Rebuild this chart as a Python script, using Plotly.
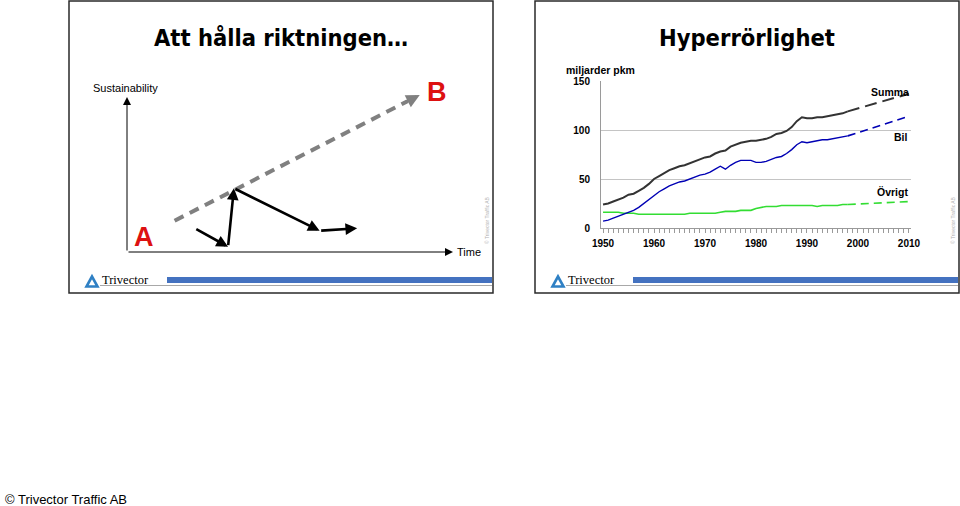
import plotly.graph_objects as go

# ---------------- data: right chart (miljarder pkm) ----------------
years = list(range(1950, 1999))
summa = [24, 25, 27, 29, 31, 34, 35, 38, 41, 45,
         50, 53, 56, 59, 61, 63, 64, 66, 68, 70,
         72, 73, 76, 78, 79, 83, 85, 87, 88, 89,
         89, 90, 91, 93, 96, 97, 99, 103, 109, 113,
         112, 112, 113, 113, 114, 115, 116, 117, 119]
bil = [7, 8, 10, 12, 14, 16, 18, 21, 25, 29,
       33, 37, 40, 43, 45, 47, 48, 50, 52, 54,
       55, 57, 60, 63, 60, 64, 67, 69, 69, 69,
       67, 67, 68, 70, 72, 73, 76, 80, 85, 88,
       87, 88, 89, 90, 90, 91, 92, 93, 94]
ovrigt = [16, 16, 16, 16, 15, 15, 15, 14, 14, 14,
          14, 14, 14, 14, 14, 14, 14, 15, 15, 15,
          15, 15, 15, 16, 17, 17, 17, 18, 18, 18,
          20, 21, 22, 22, 22, 23, 23, 23, 23, 23,
          23, 23, 22, 23, 23, 23, 23, 24, 24]
proj_years = [1998, 2010]
summa_proj = [119, 137]
bil_proj = [94, 114]
ovrigt_proj = [24, 27]
x_ticks = [1950, 1960, 1970, 1980, 1990, 2000, 2010]
y_ticks = [0, 50, 100, 150]

# ---------------- data: left schematic (units 0-100) ----------------
goal_x = [14.6, 89.8]          # dashed A -> B
goal_y = [20.2, 101.3]
path_x = [20.8, 31.0, 32.8, 59.1, 70.6]   # wandering black arrows
path_y = [15.3, 3.4, 41.1, 13.7, 15.3]

W, H = 960, 506
def px(x): return x / W
def py(y): return 1 - y / H

fig = go.Figure()

# right chart lines
fig.add_trace(go.Scatter(x=years, y=ovrigt, mode="lines", line=dict(color="#33dd33", width=1.6),
                         xaxis="x2", yaxis="y2", hoverinfo="skip"))
fig.add_trace(go.Scatter(x=proj_years, y=ovrigt_proj, mode="lines",
                         line=dict(color="#33dd33", width=1.6, dash="8px,5px"),
                         xaxis="x2", yaxis="y2", hoverinfo="skip"))
fig.add_trace(go.Scatter(x=years, y=bil, mode="lines", line=dict(color="#0000b4", width=1.4),
                         xaxis="x2", yaxis="y2", hoverinfo="skip"))
fig.add_trace(go.Scatter(x=proj_years, y=bil_proj, mode="lines",
                         line=dict(color="#0000b4", width=1.6, dash="8px,5px"),
                         xaxis="x2", yaxis="y2", hoverinfo="skip"))
fig.add_trace(go.Scatter(x=years, y=summa, mode="lines", line=dict(color="#333333", width=2),
                         xaxis="x2", yaxis="y2", hoverinfo="skip"))
fig.add_trace(go.Scatter(x=proj_years, y=summa_proj, mode="lines",
                         line=dict(color="#333333", width=2, dash="12px,6px"),
                         xaxis="x2", yaxis="y2", hoverinfo="skip"))

# left schematic dashed goal line (stop a bit before the tip, arrowhead via annotation)
f = 0.95
fig.add_trace(go.Scatter(x=[goal_x[0], goal_x[0] + f * (goal_x[1] - goal_x[0])],
                         y=[goal_y[0], goal_y[0] + f * (goal_y[1] - goal_y[0])],
                         mode="lines", line=dict(color="#808080", width=4, dash="10px,7px"),
                         xaxis="x3", yaxis="y3", hoverinfo="skip"))

ann = []
# arrowhead of the dashed goal line
tail_f = 0.93
ann.append(dict(x=goal_x[1], y=goal_y[1],
                ax=goal_x[0] + tail_f * (goal_x[1] - goal_x[0]),
                ay=goal_y[0] + tail_f * (goal_y[1] - goal_y[0]),
                xref="x3", yref="y3", axref="x3", ayref="y3", text="", showarrow=True,
                arrowhead=2, arrowsize=0.9, arrowwidth=3, arrowcolor="#808080", standoff=0))
# black wandering arrows
for i in range(1, len(path_x)):
    ann.append(dict(x=path_x[i], y=path_y[i], ax=path_x[i - 1], ay=path_y[i - 1],
                    xref="x3", yref="y3", axref="x3", ayref="y3", text="", showarrow=True,
                    arrowhead=2, arrowsize=0.9, arrowwidth=2.6, arrowcolor="#000000", standoff=0))
# schematic axes
ann.append(dict(x=0, y=100, ax=0, ay=0, xref="x3", yref="y3", axref="x3", ayref="y3", text="",
                showarrow=True, arrowhead=2, arrowsize=1.6, arrowwidth=1, arrowcolor="#000000"))
ann.append(dict(x=100, y=0, ax=0, ay=0, xref="x3", yref="y3", axref="x3", ayref="y3", text="",
                showarrow=True, arrowhead=2, arrowsize=1.6, arrowwidth=1, arrowcolor="#000000"))

def txt(x, y, s, size, color="#000000", family="Arial, Liberation Sans, sans-serif",
        xanchor="center", angle=0, bold=False):
    if bold:
        s = "<b>" + s + "</b>"
    ann.append(dict(x=px(x), y=py(y), xref="paper", yref="paper", text=s, showarrow=False,
                    xanchor=xanchor, yanchor="middle", textangle=angle,
                    font=dict(size=size, color=color, family=family)))

title_font = "DejaVu Sans Condensed, Liberation Sans, sans-serif"
txt(281, 38, "Att hålla riktningen…", 23.5, family=title_font, bold=True)
txt(747, 38, "Hyperrörlighet", 23.5, family=title_font, bold=True)
txt(125, 88, "Sustainability", 11)
txt(455, 252, "Time", 11, xanchor="left")
txt(144, 237, "A", 27, color="#dd1111", bold=True)
txt(437, 92, "B", 27, color="#dd1111", bold=True)
txt(600, 70, "miljarder pkm", 10.5, bold=True)
txt(911, 92, "Summa", 10.5, xanchor="right", bold=True)
txt(910, 137, "Bil", 10.5, xanchor="right", bold=True)
txt(910, 192, "Övrigt", 10.5, xanchor="right", bold=True)
txt(487, 220, "© Trivector Traffic AB", 5, color="#b0b0b0", angle=-90)
txt(953, 220, "© Trivector Traffic AB", 5, color="#b0b0b0", angle=-90)
txt(125, 280, "Trivector", 12.5, family="Liberation Serif, Times New Roman, serif")
txt(591, 280, "Trivector", 12.5, family="Liberation Serif, Times New Roman, serif")
txt(3, 499, "© Trivector Traffic AB", 13, xanchor="left")

shapes = []
for off in (0, 466):
    # slide border
    shapes.append(dict(type="rect", xref="paper", yref="paper",
                       x0=px(69 + off), x1=px(493 + off), y0=py(293), y1=py(1),
                       line=dict(color="#2a2a2a", width=1.5)))
    # blue footer bar
    shapes.append(dict(type="rect", xref="paper", yref="paper",
                       x0=px(167 + off), x1=px(492 + off), y0=py(283), y1=py(277),
                       line=dict(width=0), fillcolor="#4472c0"))
    # thin grey footer line
    shapes.append(dict(type="line", xref="paper", yref="paper",
                       x0=px(100 + off), x1=px(492 + off), y0=py(285.5), y1=py(285.5),
                       line=dict(color="#a8a8a8", width=1)))
    # logo triangle
    path = "M {},{} L {},{} L {},{} Z".format(px(92 + off), py(276.5), px(86.5 + off), py(286.5),
                                               px(97.5 + off), py(286.5))
    shapes.append(dict(type="path", xref="paper", yref="paper", path=path,
                       line=dict(color="#2f80c4", width=2.6), fillcolor="rgba(0,0,0,0)"))

axis_font = dict(family="Arial, Liberation Sans, sans-serif", size=10, color="#000000")
fig.update_layout(
    template="none",
    width=W, height=H, margin=dict(l=0, r=0, t=0, b=0, pad=0, autoexpand=False), autosize=False,
    paper_bgcolor="white", plot_bgcolor="rgba(0,0,0,0)", showlegend=False,
    annotations=ann, shapes=shapes,
    xaxis=dict(visible=False, domain=[0, 0.01], automargin=False),
    yaxis=dict(visible=False, domain=[0, 0.01], automargin=False),
    xaxis2=dict(domain=[px(601), px(911)], range=[1949.6, 2010.4], anchor="y2", automargin=False,
                tickvals=x_ticks, ticktext=["<b>%d</b>" % v for v in x_ticks],
                tickfont=axis_font, showgrid=False, zeroline=False,
                showline=True, linecolor="#9a9a9a", linewidth=1,
                ticks="outside", ticklen=4, tickcolor="#9a9a9a",
                minor=dict(dtick=1, tick0=1950, ticks="outside", ticklen=4, tickcolor="#9a9a9a"),
                ticklabelstandoff=2, fixedrange=True),
    yaxis2=dict(domain=[py(228), py(81)], range=[0, 150], anchor="x2", automargin=False,
                tickvals=y_ticks, ticktext=["<b>%d</b>" % v for v in y_ticks],
                tickfont=axis_font, showgrid=True, gridcolor="#c4c4c4", gridwidth=1,
                zeroline=False, showline=True, linecolor="#9a9a9a", linewidth=1,
                ticks="", ticklabelstandoff=8, fixedrange=True),
    xaxis3=dict(domain=[px(127), px(453)], range=[0, 100], anchor="y3", visible=False, automargin=False),
    yaxis3=dict(domain=[py(252), py(97)], range=[0, 100], anchor="x3", visible=False, automargin=False),
)

fig.write_html("out.html", config={"displayModeBar": False},
               post_script="document.body.style.margin='0px';document.body.style.overflow='hidden';")
